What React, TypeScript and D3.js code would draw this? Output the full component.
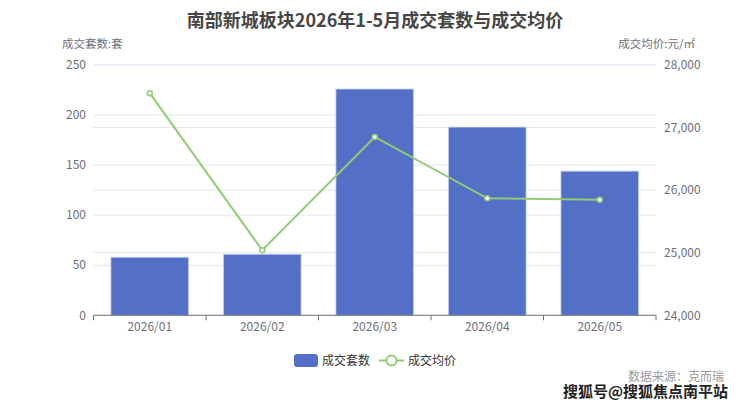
import React from "react";
import * as d3 from "d3";

const categories = ["2026/01", "2026/02", "2026/03", "2026/04", "2026/05"];
const deals = [58, 61, 226, 188, 144];
const prices = [27550, 25040, 26850, 25870, 25845];
const leftTicks = [0, 50, 100, 150, 200, 250];
const rightTicks = [24000, 25000, 26000, 27000, 28000];

const W = 740;
const H = 406;
const FONT = "'Noto Sans CJK SC', 'Noto Sans', sans-serif";

export default function App() {
  const left = 93.5;
  const right = 656;
  const top = 65;
  const bottom = 315.3;

  const x = d3.scaleBand<string>().domain(categories).range([left, right]).paddingInner(0.31).paddingOuter(0.155);
  const xb = d3.scaleBand<string>().domain(categories).range([left, right]);
  const yL = d3.scaleLinear().domain([0, 250]).range([bottom, top]);
  const yR = d3.scaleLinear().domain([24000, 28000]).range([bottom, top]);

  const line = d3
    .line<number>()
    .x((_, i) => (xb(categories[i]) as number) + xb.bandwidth() / 2)
    .y((d) => yR(d));

  const axisColor = "#6E7079";
  const gridColor = "#E0E6F1";

  return (
    <svg
      width={W}
      height={H}
      style={{ position: "absolute", left: 0, top: 0, background: "#fff" }}
      fontFamily={FONT}
    >
      <text x={375} y={27} textAnchor="middle" fontSize={18} fontWeight="bold" fill="#464646">
        南部新城板块2026年1-5月成交套数与成交均价
      </text>
      <text x={62} y={48} fontSize={11.5} fill={axisColor}>成交套数:套</text>
      <text x={695} y={48} textAnchor="end" fontSize={11.5} fill={axisColor}>成交均价:元/㎡</text>

      {leftTicks.slice(1).map((t) => (
        <line key={"gl" + t} x1={left} x2={right} y1={yL(t)} y2={yL(t)} stroke={gridColor} strokeWidth={1} />
      ))}
      {rightTicks.slice(1).map((t) => (
        <line key={"gr" + t} x1={left} x2={right} y1={yR(t)} y2={yR(t)} stroke={gridColor} strokeWidth={1} />
      ))}

      {leftTicks.map((t) => (
        <text key={"tl" + t} x={86} y={yL(t)} dy="0.35em" textAnchor="end" fontSize={12} fill={axisColor}>
          {t}
        </text>
      ))}
      {rightTicks.map((t) => (
        <text key={"tr" + t} x={664} y={yR(t)} dy="0.35em" textAnchor="start" fontSize={12} fill={axisColor}>
          {d3.format(",")(t)}
        </text>
      ))}

      {categories.map((c, i) => (
        <rect
          key={"b" + c}
          x={x(c) as number}
          y={yL(deals[i])}
          width={x.bandwidth()}
          height={bottom - yL(deals[i])}
          fill="#5470C6"
          stroke="#C5CFEE"
          strokeWidth={0.8}
        />
      ))}

      <line x1={left} x2={right} y1={bottom} y2={bottom} stroke={axisColor} strokeWidth={1} />
      {[...categories.map((c) => xb(c) as number), right].map((v, i) => (
        <line key={"tk" + i} x1={v} x2={v} y1={bottom} y2={bottom + 5} stroke={axisColor} strokeWidth={1} />
      ))}
      {categories.map((c) => (
        <text
          key={"cl" + c}
          x={(xb(c) as number) + xb.bandwidth() / 2}
          y={bottom + 16}
          textAnchor="middle"
          fontSize={12}
          fill={axisColor}
        >
          {c}
        </text>
      ))}

      <path d={line(prices) || ""} fill="none" stroke="#91CC75" strokeWidth={2} />
      {prices.map((p, i) => (
        <circle
          key={"p" + i}
          cx={(xb(categories[i]) as number) + xb.bandwidth() / 2}
          cy={yR(p)}
          r={2.5}
          fill="#fff"
          stroke="#91CC75"
          strokeWidth={1.5}
        />
      ))}

      <rect x={294} y={354} width={24} height={13} rx={3} fill="#5470C6" />
      <text x={322} y={360.5} dy="0.35em" fontSize={12} fill="#333">成交套数</text>
      <line x1={379} x2={404} y1={360.5} y2={360.5} stroke="#91CC75" strokeWidth={2} />
      <circle cx={391.5} cy={360.5} r={5} fill="#fff" stroke="#91CC75" strokeWidth={2} />
      <text x={408} y={360.5} dy="0.35em" fontSize={12} fill="#333">成交均价</text>

      <text x={628} y={381} fontSize={12} fill="#999">数据来源：克而瑞</text>
      <text
        x={563}
        y={397}
        fontSize={15}
        fontWeight="bold"
        fill="#222"
        stroke="#fff"
        strokeWidth={2.5}
        paintOrder="stroke"
      >
        搜狐号@搜狐焦点南平站
      </text>
    </svg>
  );
}
